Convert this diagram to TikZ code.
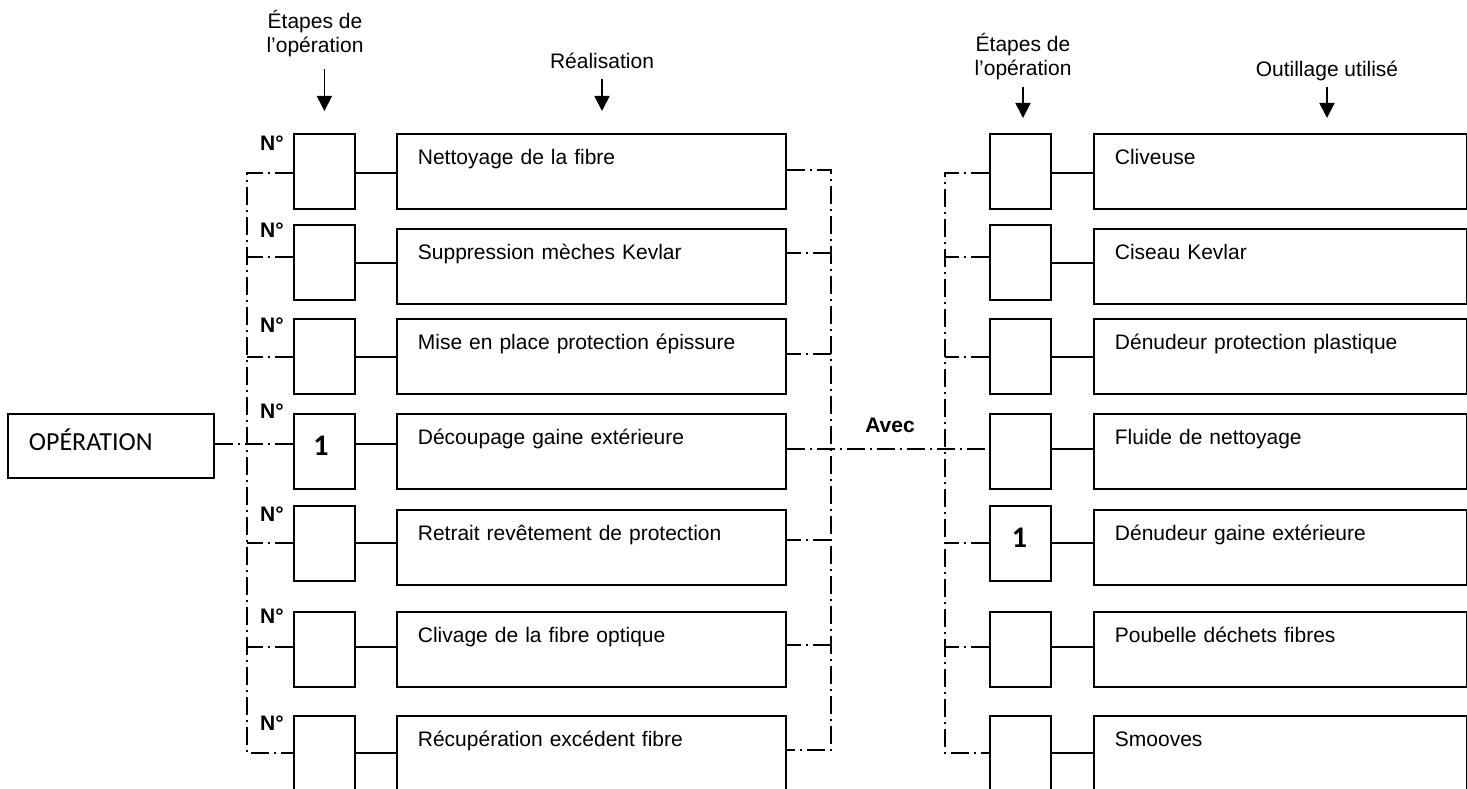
\documentclass[tikz,border=0pt]{standalone}
\usepackage{fontspec}
\setmainfont{Liberation Sans}
\newfontfamily\calib{Carlito}
\usetikzlibrary{arrows.meta}
\begin{document}
\begin{tikzpicture}[x=1pt,y=-1pt,
  every node/.style={font=\fontsize{21pt}{24.5pt}\selectfont},
  box/.style={draw, line width=1.8pt},
  bigL/.style={box, anchor=north west, inner xsep=21pt, inner ysep=0pt, text width=347pt, align=left, text height=31pt, text depth=44pt},
  bigR/.style={bigL, text width=331pt},
  small/.style={box, anchor=north west, minimum width=61pt, minimum height=75pt, inner sep=0pt},
  dd/.style={line width=1.4pt, dash pattern=on 18pt off 5pt on 2pt off 5pt},
  conn/.style={line width=1.6pt},
  arr/.style={line width=1.8pt, -{Triangle[length=15pt,width=15pt]}},
  num/.style={font=\fontsize{21pt}{24pt}\selectfont\bfseries, anchor=base east, inner sep=0pt},
  one/.style={font=\calib\bfseries\fontsize{30pt}{30pt}\selectfont, anchor=base, inner sep=0pt},
  hdr/.style={align=center, inner sep=0pt},
  lbl/.style={anchor=base, inner sep=0pt},
]
\useasboundingbox (0,0) rectangle (1467,789);

% rows
\foreach \i/\ys/\yb/\yl/\yr/\tl/\tr in {
  1/133/133/173/173/Nettoyage de la fibre/Cliveuse,
  2/224/228/263/263/Suppression mèches Kevlar/Ciseau Kevlar,
  3/318/318/357/357/Mise en place protection épissure/Dénudeur protection plastique,
  4/413/413/444/449/Découpage gaine extérieure/Fluide de nettoyage,
  5/505/509/543/543/Retrait revêtement de protection/Dénudeur gaine extérieure,
  6/611/611/647/647/Clivage de la fibre optique/Poubelle déchets fibres,
  7/715/715/753/753/Récupération excédent fibre/Smooves}{
  \node[small] (sL\i) at (293,\ys) {};
  \node[bigL] (bL\i) at (396,\yb) {\tl};
  \node[small] (sR\i) at (989,\ys) {};
  \node[bigR] (bR\i) at (1093,\yb) {\tr};
  \draw[conn] (sL\i.east |- 0,\yl) -- (bL\i.west |- 0,\yl);
  \draw[conn] (sR\i.east |- 0,\yr) -- (bR\i.west |- 0,\yr);
}

% N° labels
\foreach \i/\y in {1/150,2/237,3/332,4/418,5/521,6/623,7/730}{
  \node[num] (n\i) at (284,\y) {N°};
}

\node[one] (oneL) at (321,455) {1};
\node[one] (oneR) at (1019.5,547) {1};

% OPERATION box
\node[box, anchor=north west, inner xsep=21pt, inner ysep=0pt, text width=164pt, align=left,
      text height=37pt, text depth=27pt, font=\calib\fontsize{26pt}{28pt}\selectfont] (op) at (7,413) {OPÉRATION};

% headers
\node[hdr] (hE1) at (315,33.5) {Étapes de\\l’opération};
\node[lbl] (hR) at (602,69) {Réalisation};
\node[hdr] (hE2) at (1023,56.5) {Étapes de\\l’opération};
\node[lbl] (hO) at (1327,77) {Outillage utilisé};
\draw[arr] (sL1.north |- 0,69) -- (sL1.north |- 0,111);
\draw[arr] (hR.south |- 0,79) -- (hR.south |- 0,111);
\draw[arr] (hE2.south |- 0,87) -- (hE2.south |- 0,118);
\draw[arr] (hO.south |- 0,87) -- (hO.south |- 0,118);

\node[lbl, font=\fontsize{21pt}{24pt}\selectfont\bfseries] (avec) at (890,432) {Avec};

% left dash-dot bus
\coordinate (lvT) at (247,173);
\coordinate (lvB) at (247,753);
\draw[dd] (sL1.west |- lvT) -- (lvT) -- (lvB) -- (sL7.west |- lvB);
\foreach \i/\y in {2/257,3/357,5/543,6/647}{
  \coordinate (lt\i) at (247,\y);
  \draw[dd] (sL\i.west |- lt\i) -- (lt\i);
}
\draw[dd] (op.east |- 0,444) -- (sL4.west |- 0,444);

% middle dash-dot bus
\coordinate (mvT) at (831,170);
\coordinate (mvB) at (831,750);
\draw[dd] (bL1.east |- mvT) -- (mvT) -- (mvB) -- (bL7.east |- mvB);
\foreach \i/\y in {2/253,3/354,5/540,6/645}{
  \coordinate (mt\i) at (831,\y);
  \draw[dd] (mt\i) -- (bL\i.east |- mt\i);
}
\draw[dd] (bL4.east |- 0,449) -- (sR4.west |- 0,449);

% right dash-dot bus
\coordinate (rvT) at (945,173);
\coordinate (rvB) at (945,753);
\draw[dd] (sR1.west |- rvT) -- (rvT) -- (rvB) -- (sR7.west |- rvB);
\foreach \i/\y in {2/257,3/357,5/543,6/647}{
  \coordinate (rt\i) at (945,\y);
  \draw[dd] (sR\i.west |- rt\i) -- (rt\i);
}
\end{tikzpicture}
\end{document}
